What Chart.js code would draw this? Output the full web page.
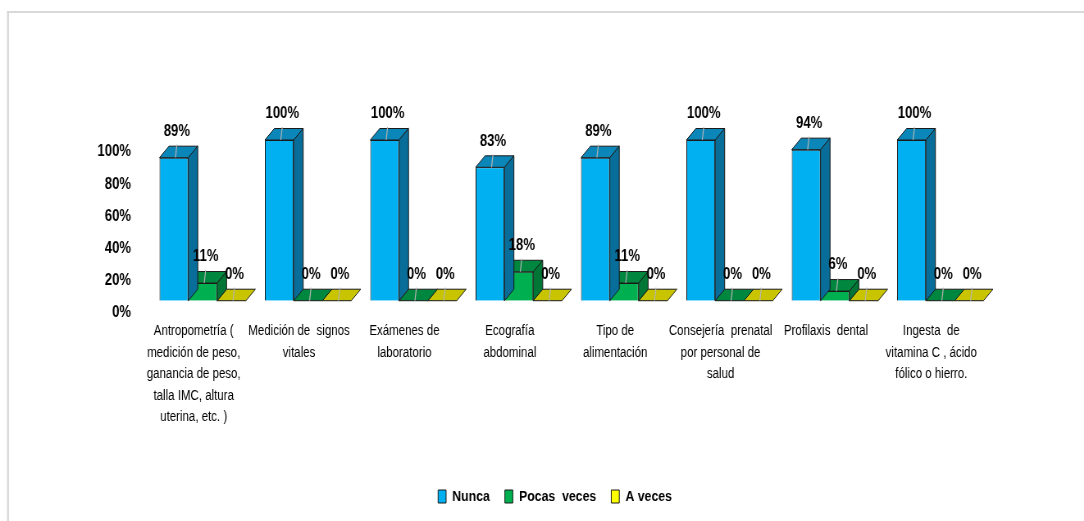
<!DOCTYPE html>
<html>
<head>
<meta charset="utf-8">
<script src="https://cdn.jsdelivr.net/npm/chart.js@4/dist/chart.umd.min.js"></script>
<style>
  html, body { margin: 0; padding: 0; background: #fff; overflow: hidden; }
  /* the chart is laid out on a wider canvas and squeezed horizontally,
     which gives the condensed lettering and slender bars */
  #c { display: block; transform-origin: 0 0; }
</style>
</head>
<body>
<canvas id="c"></canvas>
<script>
// Categories (multi-line axis labels)
const categories = [
  ["Antropometría (", "medición de peso,", "ganancia de peso,", "talla IMC, altura", "uterina, etc. )"],
  ["Medición de  signos", "vitales"],
  ["Exámenes de", "laboratorio"],
  ["Ecografía", "abdominal"],
  ["Tipo de", "alimentación"],
  ["Consejería  prenatal", "por personal de", "salud"],
  ["Profilaxis  dental"],
  ["Ingesta  de", "vitamina C , ácido", "fólico o hierro."]
];

// Percentages per series
const nunca      = [89, 100, 100, 83, 89, 100, 94, 100];
const pocasVeces = [11, 0, 0, 18, 11, 0, 6, 0];
const aVeces     = [0, 0, 0, 0, 0, 0, 0, 0];

const seriesNames = ["Nunca", "Pocas  veces", "A veces"];

// Y axis tick values
const yTicks = [0, 20, 40, 60, 80, 100];

// Horizontal squeeze factor applied to the canvas
const SX = 0.82;
const PAGE_W = 1084, PAGE_H = 521;
const CANVAS_W = Math.round(PAGE_W / SX);
const h = px => px / SX; // on-screen horizontal pixels -> canvas pixels

const FONT = '"Liberation Sans", Arial, sans-serif';

// Depth of the extruded bars
const DEPTH_X = h(9.5);
const DEPTH_Y = -11.5;
const EDGE = '#1a1a1a';

const frontColors = ['#00B0F0', '#00B050', '#FFFF00'];
const faceColors = [
  { top: '#0b86b8', side: '#086e99' },
  { top: '#00873f', side: '#007636' },
  { top: '#c9c400', side: '#a8a400' }
];

function poly(ctx, pts, fill) {
  ctx.beginPath();
  ctx.moveTo(pts[0][0], pts[0][1]);
  for (let i = 1; i < pts.length; i++) ctx.lineTo(pts[i][0], pts[i][1]);
  ctx.closePath();
  ctx.fillStyle = fill;
  ctx.fill();
  ctx.stroke();
}

const bar3d = {
  id: 'bar3d',
  afterLayout(chart) {
    // centre the legend under the plot
    const lg = chart.legend;
    if (!lg) return;
    const w = lg.right - lg.left;
    const c = h(555);
    lg.left = c - w / 2;
    lg.right = c + w / 2;
  },
  beforeDraw(chart) {
    const ctx = chart.ctx;
    ctx.save();
    ctx.fillStyle = '#fff';
    ctx.fillRect(0, 0, chart.width, chart.height);
    // frame around the chart
    ctx.fillStyle = '#d9d9d9';
    ctx.fillRect(h(7), 11, chart.width, 2);
    ctx.fillRect(h(7), 11, h(2), chart.height);
    ctx.restore();
  },
  afterDatasetDraw(chart, args) {
    const ctx = chart.ctx;
    const faces = faceColors[args.index];
    ctx.save();
    ctx.lineWidth = 1;
    ctx.strokeStyle = EDGE;
    ctx.lineJoin = 'round';
    args.meta.data.forEach(bar => {
      const p = bar.getProps(['x', 'y', 'base', 'width'], true);
      const x0 = p.x - p.width / 2, x1 = p.x + p.width / 2;
      const top = Math.min(p.y, p.base), base = Math.max(p.y, p.base);
      // top face
      poly(ctx, [[x0, top], [x1, top], [x1 + DEPTH_X, top + DEPTH_Y], [x0 + DEPTH_X, top + DEPTH_Y]], faces.top);
      // side face
      if (base - top > 0.5) {
        poly(ctx, [[x1, top], [x1 + DEPTH_X, top + DEPTH_Y], [x1 + DEPTH_X, base + DEPTH_Y], [x1, base]], faces.side);
      }
    });
    ctx.restore();
  },
  afterDatasetsDraw(chart) {
    const ctx = chart.ctx;
    ctx.save();
    chart.data.datasets.forEach((ds, i) => {
      const meta = chart.getDatasetMeta(i);
      meta.data.forEach((bar, j) => {
        const p = bar.getProps(['x', 'y'], true);
        const ly = p.y - 26;
        // leader line
        ctx.strokeStyle = '#b4b4b4';
        ctx.lineWidth = 1.2;
        ctx.beginPath();
        ctx.moveTo(p.x + h(3), ly + 13);
        ctx.lineTo(p.x + h(1.5), p.y);
        ctx.stroke();
        // value label
        ctx.fillStyle = '#000';
        ctx.font = 'bold 16px ' + FONT;
        ctx.textAlign = 'center';
        ctx.textBaseline = 'middle';
        ctx.fillText(ds.data[j] + '%', p.x + h(3), ly);
      });
    });
    ctx.restore();
  }
};

const canvas = document.getElementById('c');
canvas.width = CANVAS_W;
canvas.height = PAGE_H;
canvas.style.transform = 'scaleX(' + SX + ')';

const seriesData = [nunca, pocasVeces, aVeces];

new Chart(canvas, {
  type: 'bar',
  data: {
    labels: categories,
    datasets: seriesData.map((d, i) => ({
      label: seriesNames[i],
      data: d,
      backgroundColor: frontColors[i],
      borderColor: EDGE,
      borderWidth: 1,
      barPercentage: 1,
      categoryPercentage: 0.82
    }))
  },
  options: {
    responsive: false,
    animation: false,
    devicePixelRatio: 1,
    layout: { padding: { top: 140, right: CANVAS_W - h(993), bottom: 7, left: 0 } },
    plugins: {
      legend: {
        position: 'bottom',
        labels: {
          boxWidth: h(8),
          boxHeight: 13,
          padding: h(15),
          color: '#000',
          font: { family: FONT, size: 15, weight: 'bold' }
        }
      },
      tooltip: { enabled: false }
    },
    scales: {
      x: {
        grid: { display: false, drawTicks: false },
        border: { display: false },
        ticks: {
          color: '#000',
          autoSkip: false,
          maxRotation: 0,
          padding: 20,
          labelOffset: h(-9),
          font: { family: FONT, size: 14, lineHeight: 1.53 }
        },
        afterFit(s) { s.height = 170; }
      },
      y: {
        min: 0,
        max: 100,
        grid: { display: false, drawTicks: false },
        border: { display: false },
        afterBuildTicks(s) { s.ticks = yTicks.map(v => ({ value: v })); },
        ticks: {
          color: '#000',
          padding: h(19),
          labelOffset: 12,
          font: { family: FONT, size: 16, weight: 'bold' },
          callback: v => v + '%'
        },
        afterFit(s) { s.width = h(150); }
      }
    }
  },
  plugins: [bar3d]
});
</script>
</body>
</html>
